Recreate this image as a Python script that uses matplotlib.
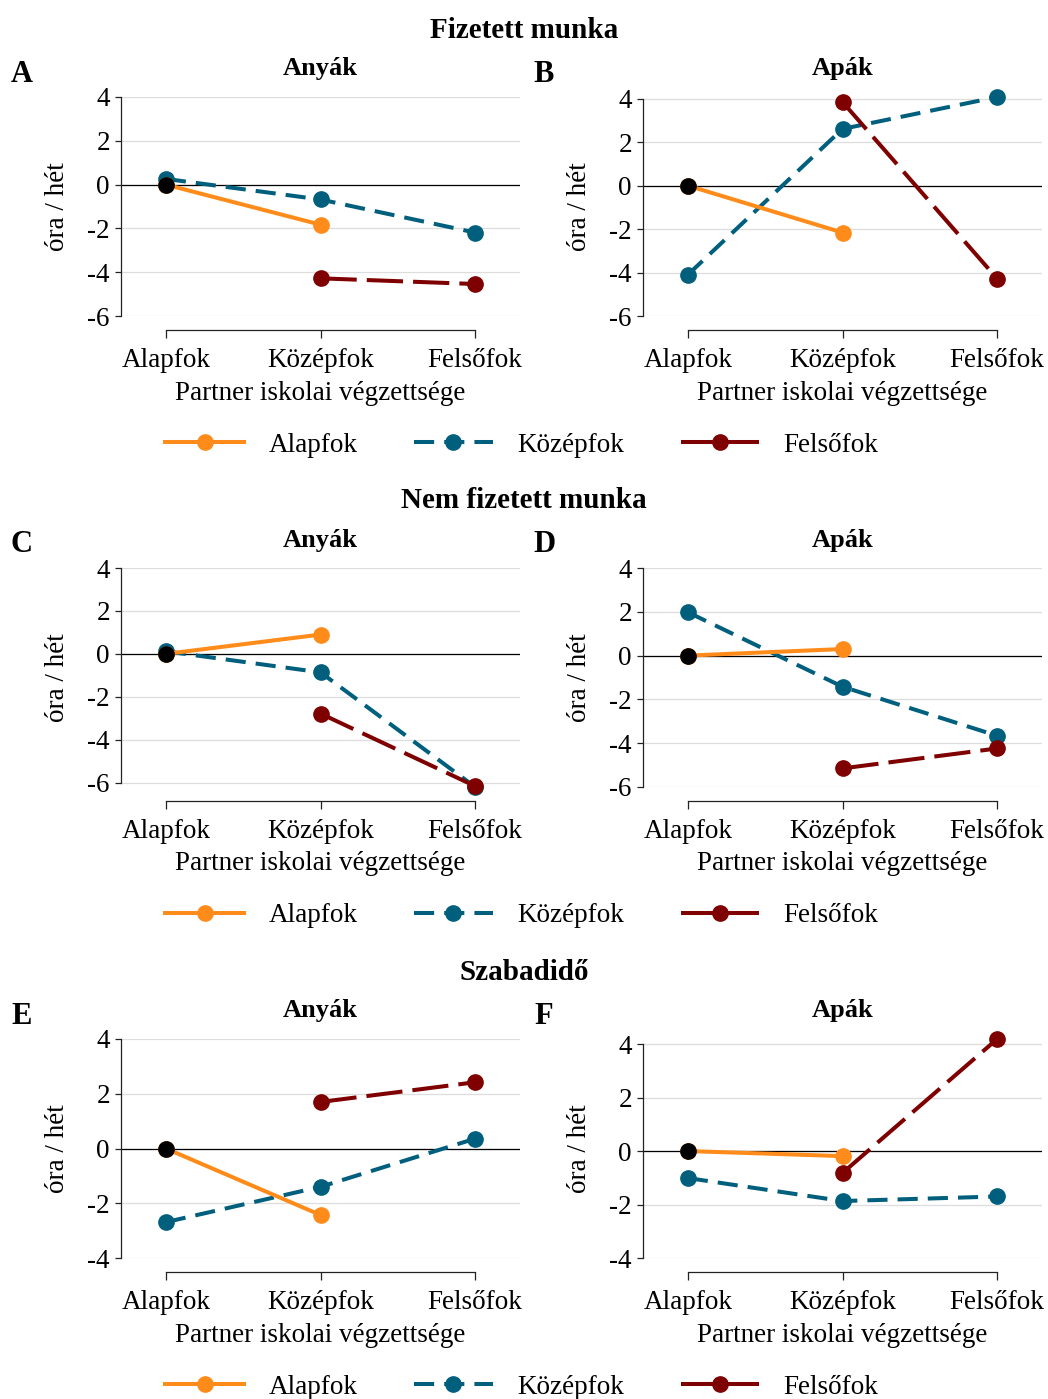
import numpy as np
import matplotlib
matplotlib.use("Agg")
import matplotlib.pyplot as plt
from matplotlib.lines import Line2D

plt.rcParams['font.family'] = ['Liberation Serif', 'DejaVu Serif']
plt.rcParams['axes.unicode_minus'] = False

nan = np.nan

# Adatok: partner iskolai végzettsége szerinti eltérések (óra / hét)
categories = ['Alapfok', 'Középfok', 'Felsőfok']
series_names = ['Alapfok', 'Középfok', 'Felsőfok']
section_titles = ['Fizetett munka', 'Nem fizetett munka', 'Szabadidő']
panel_titles = ['Anyák', 'Apák']
panel_letters = [['A', 'B'], ['C', 'D'], ['E', 'F']]

# Fizetett munka
a_alap = [0, -1.83, nan]
a_kozep = [0.26, -0.68, -2.19]
a_felso = [nan, -4.28, -4.54]
b_alap = [0, -2.16, nan]
b_kozep = [-4.10, 2.61, 4.08]
b_felso = [nan, 3.85, -4.28]

# Nem fizetett munka
c_alap = [0, 0.90, nan]
c_kozep = [0.12, -0.86, -6.20]
c_felso = [nan, -2.78, -6.16]
d_alap = [0, 0.30, nan]
d_kozep = [1.98, -1.42, -3.66]
d_felso = [nan, -5.15, -4.24]

# Szabadidő
e_alap = [0, -2.43, nan]
e_kozep = [-2.69, -1.40, 0.36]
e_felso = [nan, 1.70, 2.42]
f_alap = [0, -0.19, nan]
f_kozep = [-1.01, -1.87, -1.70]
f_felso = [nan, -0.82, 4.19]

yticks_rows = [[-6, -4, -2, 0, 2, 4], [-6, -4, -2, 0, 2, 4], [-4, -2, 0, 2, 4]]

panels = [
    [(a_alap, a_kozep, a_felso), (b_alap, b_kozep, b_felso)],
    [(c_alap, c_kozep, c_felso), (d_alap, d_kozep, d_felso)],
    [(e_alap, e_kozep, e_felso), (f_alap, f_kozep, f_felso)],
]

# Stílus
colors = ['#ff8c1a', '#005f7d', '#7f0000']
styles = ['-', (0, (5, 2.5)), (0, (9, 2.5))]
lw = 2.9
ms = 11
fs = 19.5

W, H = 1048, 1399
fig = plt.figure(figsize=(W / 100, H / 100), dpi=100)


def fx(px):
    return px / W


def fy(py):
    return 1 - py / H


left_px = [121, 643]
letter_x = [22, 544]
ax_w, ax_h = 399, 219
row_top = [97, 568, 1039]
title_y = [30, 501, 972]
legend_y = [445, 916, 1387]

x = np.arange(len(categories))

for r in range(3):
    fig.text(0.5, fy(title_y[r]), section_titles[r], ha='center', va='center',
             fontsize=21, fontweight='bold')
    yt = yticks_rows[r]
    for c in range(2):
        ax = fig.add_axes([fx(left_px[c]), fy(row_top[r] + ax_h), ax_w / W, ax_h / H])
        alap, kozep, felso = panels[r][c]
        ax.plot(x, kozep, color=colors[1], lw=lw, ls=styles[1], marker='o', ms=ms, zorder=3, clip_on=False)
        ax.plot(x, alap, color=colors[0], lw=lw, ls=styles[0], marker='o', ms=ms, zorder=4, clip_on=False)
        ax.plot(x, felso, color=colors[2], lw=lw, ls=styles[2], marker='o', ms=ms, zorder=5, clip_on=False)
        ax.plot([0], [0], color='black', marker='o', ms=ms, ls='none', zorder=6, clip_on=False)

        vals = np.array(alap + kozep + felso, dtype=float)
        lo = min(yt[0], np.nanmin(vals))
        hi = max(yt[-1], np.nanmax(vals))
        ax.set_ylim(lo, hi)
        ax.set_xlim(-0.29, 2.29)
        ax.set_xticks(x, categories)
        ax.set_yticks(yt, [str(v) for v in yt])
        ax.grid(axis='y', color='#dddddd', lw=0.9)
        ax.set_axisbelow(True)
        ax.axhline(0, color='black', lw=0.9, zorder=2)

        for s in ['top', 'right']:
            ax.spines[s].set_visible(False)
        ax.spines['left'].set_bounds(yt[0], yt[-1])
        ax.spines['bottom'].set_bounds(0, 2)
        ax.spines['bottom'].set_position(('outward', 10))
        for s in ['left', 'bottom']:
            ax.spines[s].set_color('#222222')
            ax.spines[s].set_linewidth(0.9)
        ax.tick_params(axis='x', length=6, width=0.9, pad=7, labelsize=fs, color='#222222')
        ax.tick_params(axis='y', length=4, width=0.9, pad=4, labelsize=fs, color='#222222')

        ax.set_ylabel('óra / hét', fontsize=fs)
        ax.yaxis.set_label_coords((57 - 121) / ax_w, 0.5)
        ax.yaxis.label.set_va('center')
        ax.set_xlabel('Partner iskolai végzettsége', fontsize=fs)
        ax.xaxis.set_label_coords(0.5, -(393 - 97 - ax_h) / ax_h)
        ax.xaxis.label.set_va('center')

        ax.text(0.5, 1 + 28 / ax_h, panel_titles[c], transform=ax.transAxes,
                ha='center', va='center', fontsize=19, fontweight='bold')
        fig.text(fx(letter_x[c]), fy(row_top[r] - 23), panel_letters[r][c],
                 ha='center', va='center', fontsize=22, fontweight='bold')

    handles = [Line2D([], [], color=colors[i], lw=lw, ls=styles[i], marker='o', ms=ms)
               for i in range(3)]
    fig.legend(handles, series_names, loc='center', bbox_to_anchor=(fx(522), fy(legend_y[r])),
               ncol=3, frameon=False, fontsize=fs, handlelength=2.9, handletextpad=0.9,
               columnspacing=2.1, borderpad=0, borderaxespad=0)

fig.savefig('out.png', dpi=100)
